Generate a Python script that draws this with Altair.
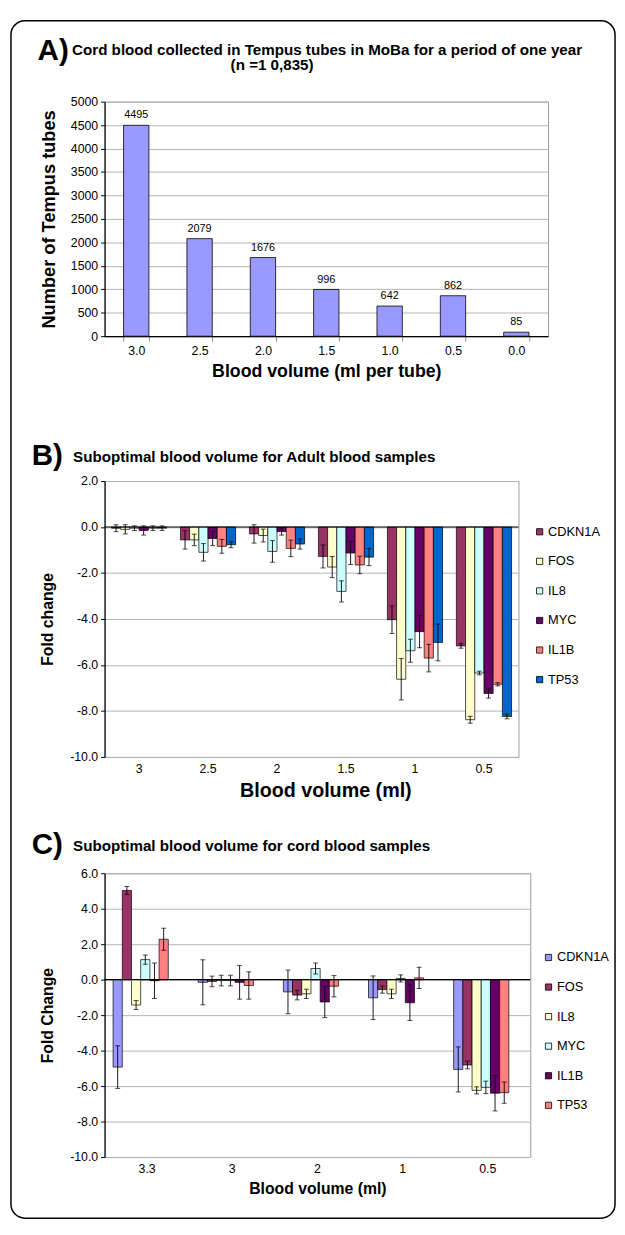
import altair as alt
import pandas as pd

FONT = "Liberation Sans"
MINUS = "\u2212"

# ---------------- Panel A data ----------------
a_volumes = ["3.0", "2.5", "2.0", "1.5", "1.0", "0.5", "0.0"]
a_counts = [4495, 2079, 1676, 996, 642, 862, 85]

genes = ["CDKN1A", "FOS", "IL8", "MYC", "IL1B", "TP53"]

# ---------------- Panel B data ----------------
b_volumes = ["3", "2.5", "2", "1.5", "1", "0.5"]
b_values = {
    "CDKN1A": [-0.05, -0.56, -0.30, -1.28, -4.03, -5.17],
    "FOS":    [-0.10, -0.56, -0.37, -1.74, -6.62, -8.38],
    "IL8":    [-0.05, -1.10, -1.06, -2.80, -5.38, -6.35],
    "MYC":    [-0.15, -0.50, -0.20, -1.13, -4.55, -7.24],
    "IL1B":   [-0.05, -0.84, -0.93, -1.65, -5.70, -6.84],
    "TP53":   [-0.05, -0.77, -0.74, -1.31, -5.02, -8.24],
}
b_errors = {
    "CDKN1A": [0.15, 0.40, 0.40, 0.50, 0.60, 0.10],
    "FOS":    [0.20, 0.25, 0.28, 0.46, 0.90, 0.15],
    "IL8":    [0.10, 0.38, 0.47, 0.46, 0.50, 0.08],
    "MYC":    [0.20, 0.30, 0.15, 0.50, 0.70, 0.20],
    "IL1B":   [0.10, 0.30, 0.36, 0.38, 0.60, 0.07],
    "TP53":   [0.10, 0.13, 0.22, 0.37, 0.80, 0.10],
}
b_colors = ["#993366", "#FFFFCC", "#CCFFFF", "#660066", "#FF8080", "#0066CC"]

# ---------------- Panel C data ----------------
c_volumes = ["3.3", "3", "2", "1", "0.5"]
c_values = {
    "CDKN1A": [-4.93, -0.15, -0.69, -1.02, -5.06],
    "FOS":    [5.03, -0.10, -0.87, -0.56, -4.81],
    "IL8":    [-1.43, -0.05, -0.80, -0.80, -6.24],
    "MYC":    [1.13, -0.05, 0.63, 0.07, -6.07],
    "IL1B":   [-0.06, -0.15, -1.26, -1.30, -6.40],
    "TP53":   [2.28, -0.33, -0.37, 0.10, -6.37],
}
c_errors = {
    "CDKN1A": [1.20, 1.27, 1.23, 1.23, 1.27],
    "FOS":    [0.22, 0.30, 0.27, 0.20, 0.22],
    "IL8":    [0.25, 0.30, 0.26, 0.26, 0.20],
    "MYC":    [0.26, 0.30, 0.31, 0.20, 0.35],
    "IL1B":   [1.00, 0.95, 0.88, 1.00, 1.00],
    "TP53":   [0.62, 0.77, 0.60, 0.60, 0.60],
}
c_colors = ["#9999FF", "#993366", "#FFFFCC", "#CCFFFF", "#660066", "#FF8080"]

GRID = "#b4b4b4"
TITLE_SIZE = 15.4


def title_layer(label, text, lx, ly, tx, ty, extra=None):
    layers = [
        alt.Chart(pd.DataFrame({"t": [label]})).mark_text(
            font=FONT, fontSize=30, fontWeight="bold", align="left", baseline="alphabetic"
        ).encode(text="t:N", x=alt.value(lx), y=alt.value(ly)),
        alt.Chart(pd.DataFrame({"t": [text]})).mark_text(
            font=FONT, fontSize=TITLE_SIZE, fontWeight="bold", align="left", baseline="alphabetic"
        ).encode(text="t:N", x=alt.value(tx), y=alt.value(ty)),
    ]
    if extra is not None:
        etext, ex, ey = extra
        layers.append(
            alt.Chart(pd.DataFrame({"t": [etext]})).mark_text(
                font=FONT, fontSize=TITLE_SIZE, fontWeight="bold", align="center",
                baseline="alphabetic"
            ).encode(text="t:N", x=alt.value(ex), y=alt.value(ey))
        )
    return layers


# ---------------- Panel A ----------------
dfa = pd.DataFrame({"vol": a_volumes, "count": a_counts})
xa = alt.X(
    "vol:N", sort=a_volumes,
    scale=alt.Scale(paddingInner=0.6, paddingOuter=0.3),
    axis=alt.Axis(title="Blood volume (ml per tube)", labelAngle=0, tickBand="extent",
                  tickColor="#888888", tickSize=5, domainColor="black", domainWidth=1.2,
                  labelFontSize=12.5, labelPadding=4, labelColor="black",
                  titleFontSize=18, titleFontWeight="bold", titlePadding=5, titleColor="black"),
)
ya = alt.Y(
    "count:Q", scale=alt.Scale(domain=[0, 5000], nice=False),
    axis=alt.Axis(values=list(range(0, 5001, 500)), tickCount=30, format="d",
                  labelOverlap=False, title="Number of Tempus tubes",
                  grid=True, gridColor=GRID, domainColor="black", domainWidth=1.2,
                  tickColor="black", tickSize=4, labelFontSize=12.5, labelPadding=3,
                  labelColor="black", titleFontSize=18.5, titleFontWeight="bold",
                  titlePadding=12, titleColor="black"),
)
bars_a = alt.Chart(dfa).mark_bar(color="#9999FF", stroke="black", strokeWidth=0.8).encode(x=xa, y=ya)
text_a = alt.Chart(dfa).mark_text(font=FONT, fontSize=11, baseline="bottom", dy=-5).encode(
    x=xa, y=ya, text="count:Q")
frame = alt.Chart(pd.DataFrame({"f": [0]})).mark_rect(
    fillOpacity=0, stroke="black", strokeWidth=1.5, cornerRadius=14
).encode(x=alt.value(-95), x2=alt.value(518), y=alt.value(-82), y2=alt.value(1133))

panel_a = alt.layer(
    bars_a, text_a, frame,
    *title_layer("A)", "Cord blood collected in Tempus tubes in MoBa for a period of one year",
                 -68, -42, -33, -47, ("(n =1 0,835)", 170, -32)),
).properties(width=450, height=238)


# ---------------- Fold change panels ----------------
def fold_panel(vols, values, errors, colors, width, height, ymin, ymax, ytitle,
               legx, legy, letter, ttext, xtitle_size, xtitle_x, letter_y, text_y):
    rows = []
    for g in genes:
        for v, val, err in zip(vols, values[g], errors[g]):
            rows.append({"vol": v, "gene": g, "val": val, "err": err})
    df = pd.DataFrame(rows)
    base = alt.Chart(df).transform_calculate(lo="datum.val - datum.err", hi="datum.val + datum.err")
    x = alt.X(
        "vol:N", sort=vols, scale=alt.Scale(paddingInner=0.2, paddingOuter=0.1),
        axis=alt.Axis(title="Blood volume (ml)", labelAngle=0, domain=False, ticks=False,
                      grid=False, labelFontSize=12.5, labelPadding=6, labelColor="black",
                      titleFontSize=xtitle_size, titleFontWeight="bold", titlePadding=6,
                      titleColor="black", titleX=xtitle_x),
    )
    xo = alt.XOffset("gene:N", sort=genes, scale=alt.Scale(domain=genes))
    yaxis = alt.Axis(values=list(range(ymin, ymax + 1, 2)), tickCount=30, labelOverlap=False,
                     labelExpr=f"replace(format(datum.value, '.1f'), '{MINUS}', '-')",
                     grid=True, gridColor=GRID, domainColor="black", domainWidth=1.2,
                     tickColor="black", tickSize=4, labelFontSize=12.5, labelPadding=3,
                     labelColor="black", titleFontSize=16, titleFontWeight="bold",
                     titlePadding=14, titleColor="black")
    yscale = alt.Scale(domain=[ymin, ymax], nice=False)
    y = alt.Y("val:Q", scale=yscale, axis=yaxis, title=ytitle)
    color = alt.Color(
        "gene:N", scale=alt.Scale(domain=genes, range=colors),
        legend=alt.Legend(title=None, orient="none", legendX=legx, legendY=legy,
                          symbolType="square", symbolSize=40, symbolStrokeColor="black",
                          symbolStrokeWidth=0.8, labelFontSize=13, labelColor="black",
                          labelOffset=2, rowPadding=16, padding=0),
    )
    bars = base.mark_bar(stroke="black", strokeWidth=0.7).encode(x=x, xOffset=xo, y=y, color=color)
    err = base.mark_rule(color="black", strokeWidth=0.9).encode(
        x=x, xOffset=xo, y=alt.Y("lo:Q", title=ytitle), y2="hi:Q")
    cap_lo = base.mark_tick(color="black", thickness=1, size=5).encode(
        x=x, xOffset=xo, y=alt.Y("lo:Q", title=ytitle))
    cap_hi = base.mark_tick(color="black", thickness=1, size=5).encode(
        x=x, xOffset=xo, y=alt.Y("hi:Q", title=ytitle))
    zero = alt.Chart(pd.DataFrame({"z": [0]})).mark_rule(color="black", strokeWidth=1.2).encode(
        y=alt.Y("z:Q", title=ytitle))
    return alt.layer(
        bars, zero, err, cap_lo, cap_hi,
        *title_layer(letter, ttext, -74, letter_y, -32, text_y),
    ).properties(width=width, height=height)


panel_b = fold_panel(b_volumes, b_values, b_errors, b_colors, 420, 280, -10, 2,
                     "Fold change", 435, 45, "B)",
                     "Suboptimal blood volume for Adult blood samples", 20, 224, -16, -19)
panel_c = fold_panel(c_volumes, c_values, c_errors, c_colors, 432, 288, -10, 6,
                     "Fold Change", 444, 79, "C)",
                     "Suboptimal blood volume for cord blood samples", 16, 216, -20, -23)

lower = alt.vconcat(panel_b, panel_c, spacing=118, bounds="flush").resolve_scale(
    color="independent").resolve_legend(color="independent")

chart = alt.vconcat(
    panel_a, lower, spacing=147, bounds="flush",
).resolve_scale(color="independent").resolve_legend(color="independent").properties(
    padding={"left": 1, "top": 2, "right": 0, "bottom": 0}
).configure(font=FONT).configure_view(stroke="#9a9a9a", strokeWidth=1)

chart.save("out.html", embed_options={"renderer": "svg", "actions": False})
